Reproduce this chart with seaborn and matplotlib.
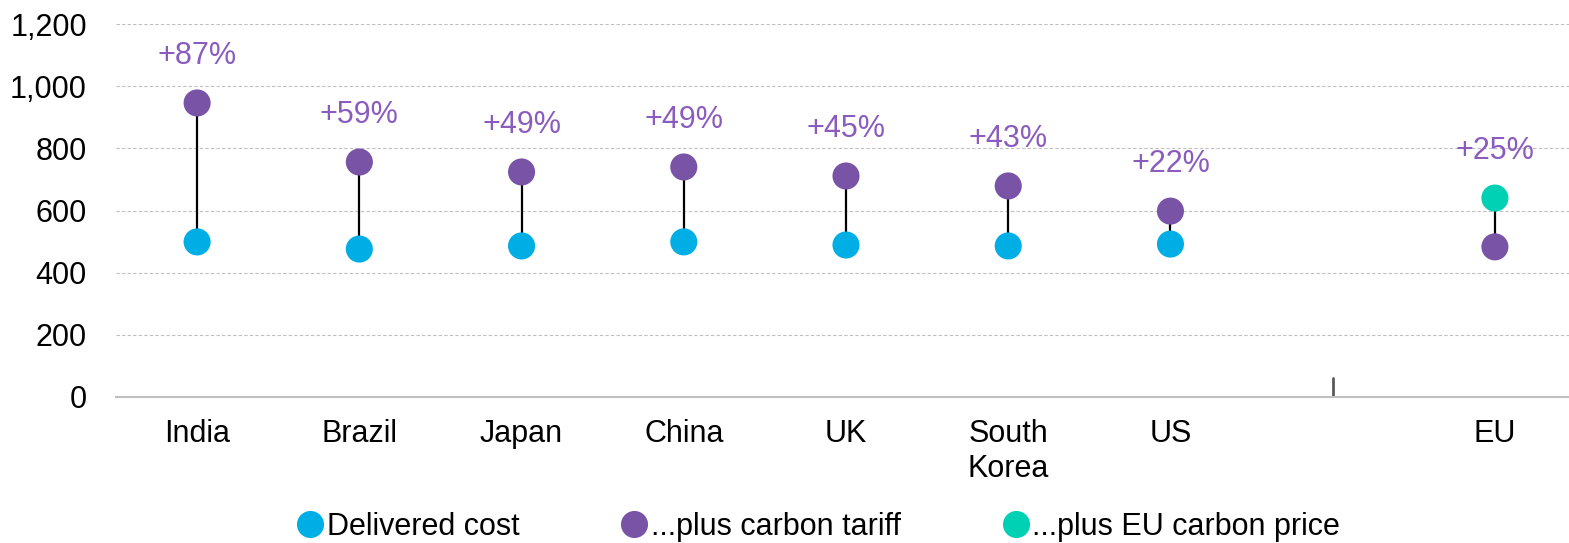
import matplotlib
matplotlib.use("Agg")
import matplotlib.pyplot as plt
import seaborn as sns
import pandas as pd

countries = ["India", "Brazil", "Japan", "China", "UK", "South Korea", "US", "EU"]
tick_labels = ["India", "Brazil", "Japan", "China", "UK", "South\nKorea", "US", "", "EU"]
order = ["India", "Brazil", "Japan", "China", "UK", "South Korea", "US", "", "EU"]
base_values = [499, 476, 486, 499, 489, 486, 492, 483]
top_values = [946, 756, 724, 740, 711, 679, 598, 640]
base_series = ["Delivered cost"] * 7 + ["...plus carbon tariff"]
top_series = ["...plus carbon tariff"] * 7 + ["...plus EU carbon price"]
pct_labels = ["+87%", "+59%", "+49%", "+49%", "+45%", "+43%", "+22%", "+25%"]
series_order = ["Delivered cost", "...plus carbon tariff", "...plus EU carbon price"]
palette = {"Delivered cost": "#00AEE6",
           "...plus carbon tariff": "#7853A6",
           "...plus EU carbon price": "#00D1B4"}

df = pd.DataFrame({
    "country": countries + countries,
    "value": base_values + top_values,
    "series": base_series + top_series,
})

sns.set_theme(style="white")
plt.rcParams["font.family"] = ["Liberation Sans", "DejaVu Sans"]

fig = plt.figure(figsize=(15.69, 5.43), dpi=100)
ax = fig.add_axes([116 / 1569, 1 - 397 / 543, 1460 / 1569, 373 / 543])

# connecting lines
pos = {c: i for i, c in enumerate(order)}
for c, b, t in zip(countries, base_values, top_values):
    ax.vlines(pos[c], b, t, color="black", lw=1.6, zorder=1)

sns.stripplot(data=df, x="country", y="value", hue="series", order=order,
              hue_order=series_order, palette=palette, jitter=False, dodge=False,
              size=19.5, linewidth=0, ax=ax, zorder=3, legend=True)

for c, t, lab in zip(countries, top_values, pct_labels):
    ax.annotate(lab, (pos[c], t), xytext=(0, 34), textcoords="offset points",
                ha="center", va="center", fontsize=22, color="#8A5CBF")

ax.set_xlim(-0.5, 8.5)
ax.set_ylim(0, 1200)
ax.set_yticks(range(0, 1201, 200))
ax.set_yticklabels([f"{v:,}" for v in range(0, 1201, 200)])
ax.set_xticks(range(len(order)))
ax.set_xticklabels(tick_labels, linespacing=1.2)
ax.tick_params(axis="both", length=0, labelsize=22, colors="black")
ax.tick_params(axis="y", pad=21)
ax.tick_params(axis="x", pad=16)
ax.set_xlabel("")
ax.set_ylabel("")
ax.grid(axis="y", color="#BFBFBF", ls=(0, (3, 2)), lw=0.8)
ax.grid(axis="x", visible=False)
ax.set_axisbelow(True)
for s in ["top", "right", "left"]:
    ax.spines[s].set_visible(False)
ax.spines["bottom"].set_color("#BFBFBF")
ax.spines["bottom"].set_linewidth(1.5)
ax.axvline(pos[""], ymin=0, ymax=0.05, color="#595959", lw=2, zorder=2)

handles, labels = ax.get_legend_handles_labels()
ax.get_legend().remove()
for h in handles:
    try:
        h.set_sizes([380])
    except Exception:
        pass
fig.legend(handles, labels, loc="center", bbox_to_anchor=(810 / 1569, 1 - 527 / 543),
           ncol=3, frameon=False, fontsize=22, handletextpad=-0.45,
           columnspacing=2.75, markerscale=1.0, borderpad=0, borderaxespad=0,
           labelcolor="black")

fig.savefig("out.png", dpi=100)
